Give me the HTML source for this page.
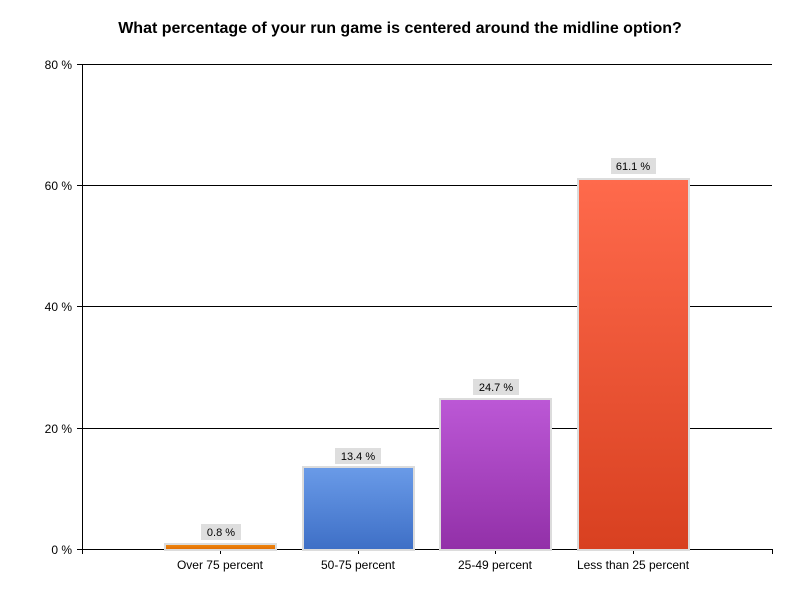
<!DOCTYPE html>
<html><head><meta charset="utf-8"><style>
html,body{margin:0;padding:0;background:#fff;}
svg{display:block;font-family:"Liberation Sans",Arial,sans-serif;}
</style></head><body>
<svg width="800" height="600" viewBox="0 0 800 600">
<defs>
<linearGradient id="g1" x1="0" y1="0" x2="0" y2="1"><stop offset="0" stop-color="#f08a10"/><stop offset="1" stop-color="#e06a00"/></linearGradient>
<linearGradient id="g2" x1="0" y1="0" x2="0" y2="1"><stop offset="0" stop-color="#6a9be8"/><stop offset="1" stop-color="#3e6fc6"/></linearGradient>
<linearGradient id="g3" x1="0" y1="0" x2="0" y2="1"><stop offset="0" stop-color="#bc58d6"/><stop offset="1" stop-color="#9230a8"/></linearGradient>
<linearGradient id="g4" x1="0" y1="0" x2="0" y2="1"><stop offset="0" stop-color="#ff6a4c"/><stop offset="1" stop-color="#d84020"/></linearGradient>
</defs>
<text x="400" y="33" text-anchor="middle" font-size="16" font-weight="bold" fill="#000">What percentage of your run game is centered around the midline option?</text>
<g stroke="#000" stroke-width="1">
<line x1="77" y1="64.5" x2="772" y2="64.5"/>
<line x1="77" y1="185.5" x2="772" y2="185.5"/>
<line x1="77" y1="306.5" x2="772" y2="306.5"/>
<line x1="77" y1="428.5" x2="772" y2="428.5"/>
<line x1="77" y1="549.5" x2="772" y2="549.5"/>
<line x1="82.5" y1="64" x2="82.5" y2="554"/>
<line x1="772.5" y1="549" x2="772.5" y2="554"/>
<line x1="220.5" y1="549" x2="220.5" y2="554"/>
<line x1="358.5" y1="549" x2="358.5" y2="554"/>
<line x1="495.5" y1="549" x2="495.5" y2="554"/>
<line x1="633.5" y1="549" x2="633.5" y2="554"/>
</g>
<g font-size="12" fill="#000" text-anchor="end">
<text x="72" y="69">80 %</text>
<text x="72" y="190">60 %</text>
<text x="72" y="311">40 %</text>
<text x="72" y="433">20 %</text>
<text x="72" y="554">0 %</text>
</g>
<g stroke="#dcdcdc" stroke-width="2">
<rect x="165" y="544" width="111" height="6" fill="url(#g1)"/>
<rect x="303" y="467" width="111" height="83" fill="url(#g2)"/>
<rect x="440" y="399" width="111" height="151" fill="url(#g3)"/>
<rect x="578" y="179" width="111" height="371" fill="url(#g4)"/>
</g>
<g fill="#dedede">
<rect x="201" y="524" width="40" height="16"/>
<rect x="335" y="448" width="46" height="16"/>
<rect x="473" y="379" width="46" height="16"/>
<rect x="611" y="158" width="45" height="16"/>
</g>
<g font-size="11" fill="#000" text-anchor="middle">
<text x="221" y="536">0.8 %</text>
<text x="358" y="460">13.4 %</text>
<text x="496" y="391">24.7 %</text>
<text x="633" y="170">61.1 %</text>
</g>
<g font-size="12" fill="#000" text-anchor="middle">
<text x="220" y="569">Over 75 percent</text>
<text x="358" y="569">50-75 percent</text>
<text x="495" y="569">25-49 percent</text>
<text x="633" y="569">Less than 25 percent</text>
</g>
</svg>
</body></html>
